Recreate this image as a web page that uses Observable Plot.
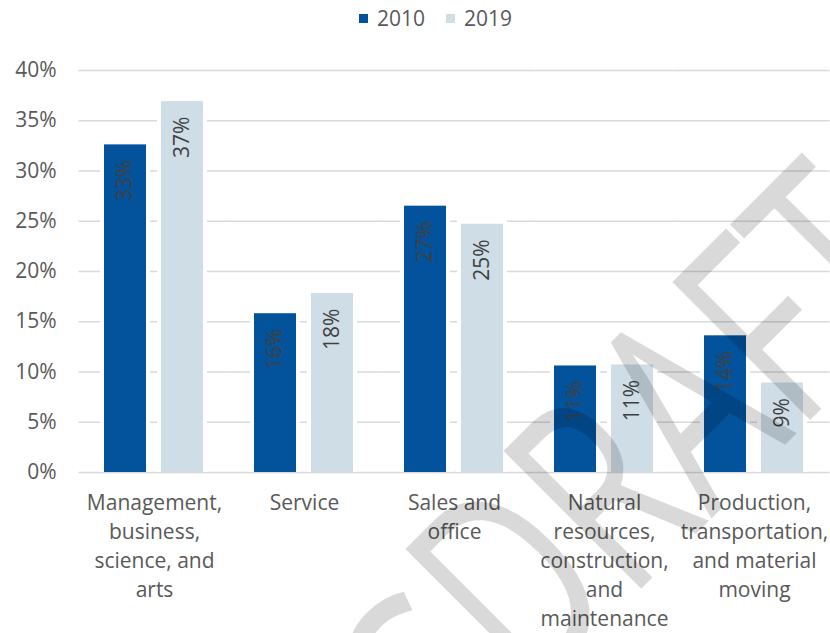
<!DOCTYPE html>
<html>
<head>
<meta charset="utf-8">
<script src="https://cdn.jsdelivr.net/npm/d3@7"></script>
<script src="https://cdn.jsdelivr.net/npm/@observablehq/plot@0.6"></script>
<style>
  html, body { margin: 0; padding: 0; background: #fff; }
  #wrap { position: relative; width: 830px; height: 633px; overflow: hidden; font-family: "Open Sans", sans-serif; }
  #legend { height: 36px; display: flex; justify-content: center; align-items: center; font-size: 21px; color: #595959; padding-left: 41px; box-sizing: border-box; }
  #legend .item { display: flex; align-items: center; margin: 0 10.5px; }
  #legend .sw { display: inline-block; width: 9px; height: 9px; margin-right: 9px; }
  #wm { position: absolute; left: 0; top: 0; pointer-events: none; }
</style>
</head>
<body>
<div id="wrap">
  <div id="legend"></div>
  <div id="chart"></div>
  <svg id="wm" width="830" height="633"></svg>
</div>
<script>
const categories = [
  "Management,\nbusiness,\nscience, and\narts",
  "Service",
  "Sales and\noffice",
  "Natural\nresources,\nconstruction,\nand\nmaintenance",
  "Production,\ntransportation,\nand material\nmoving"
];
const years = ["2010", "2019"];
const values2010 = [32.6, 15.8, 26.5, 10.6, 13.6];
const values2019 = [36.9, 17.8, 24.7, 10.7, 8.9];
const yTicks = [0, 5, 10, 15, 20, 25, 30, 35, 40];
const colors = ["#02529C", "#CFDDE7"];
const watermarkLead = "C";
const watermarkWord = "DRAFT";

const rows = [];
categories.forEach((c, i) => {
  rows.push({category: c, year: years[0], value: values2010[i]});
  rows.push({category: c, year: years[1], value: values2019[i]});
});

// legend
const legend = document.getElementById("legend");
years.forEach((y, i) => {
  const it = document.createElement("span");
  it.className = "item";
  const sw = document.createElement("span");
  sw.className = "sw";
  sw.style.background = colors[i];
  it.appendChild(sw);
  it.appendChild(document.createTextNode(y));
  legend.appendChild(it);
});

const chart = Plot.plot({
  width: 830,
  height: 597,
  marginLeft: 78,
  marginRight: 0,
  marginTop: 34,
  marginBottom: 161,
  style: {fontFamily: "Open Sans, sans-serif", fontSize: "21px", color: "#595959", background: "transparent", overflow: "visible"},
  facet: {data: rows, x: "category"},
  fx: {domain: categories, paddingInner: 0.33, paddingOuter: 0.165, axis: null, label: null},
  x: {domain: years, paddingInner: 0.26, paddingOuter: 0, axis: null},
  y: {domain: [0, 40], ticks: yTicks, tickFormat: d => d + "%", tickSize: 0, tickPadding: 48, label: null},
  color: {domain: years, range: colors},
  marks: [
    Plot.ruleY(yTicks, {stroke: "#d9d9d9", strokeWidth: 1.4, insetLeft: -25.5, insetRight: -25.5}),
    Plot.barY(rows, {x: "year", y: "value", fill: "white", insetLeft: -4, insetRight: -4, insetTop: -4}),
    Plot.barY(rows, {x: "year", y: "value", fill: "year"}),
    Plot.text(rows, {x: "year", y: "value", text: d => Math.round(d.value) + "%", rotate: -90, textAnchor: "end", dy: 15, fill: "#404040"}),
    Plot.text(rows, {filter: d => d.year === years[0], text: "category", frameAnchor: "bottom", lineAnchor: "top", dy: 17, lineHeight: 1.38, fill: "#595959"})
  ]
});
document.getElementById("chart").appendChild(chart);

// watermark overlay (condensed, rotated -45deg)
const wm = d3.select("#wm");
const wmStyle = sel => sel
  .attr("font-family", "Open Sans, sans-serif")
  .attr("font-weight", 400)
  .attr("font-size", 273)
  .attr("fill", "#000")
  .attr("fill-opacity", 0.15);
wm.append("text")
  .attr("transform", "translate(446.5,812.5) rotate(-45) scale(0.77,1)")
  .call(wmStyle)
  .text(watermarkLead);
wm.append("text")
  .attr("transform", "translate(530,700) rotate(-45) scale(0.7,1)")
  .call(wmStyle)
  .text(watermarkWord);
</script>
</body>
</html>
